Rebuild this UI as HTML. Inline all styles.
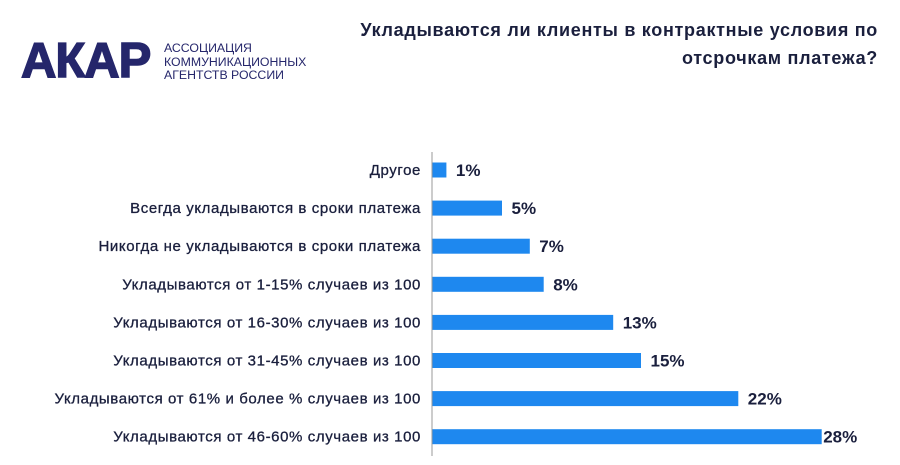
<!DOCTYPE html>
<html><head><meta charset="utf-8"><style>
body{margin:0;width:900px;height:465px;background:#fff;overflow:hidden;font-family:"Liberation Sans","DejaVu Sans",sans-serif;position:relative}
.logo{position:absolute;left:21px;top:37px;font-size:49px;font-weight:bold;color:#25266b;letter-spacing:-1px;line-height:1;-webkit-text-stroke:1.5px #25266b}
.logo-sub{position:absolute;left:164px;top:42px;font-size:12.3px;line-height:13.5px;color:#25266b}
.title{position:absolute;right:22px;top:16px;width:580px;text-align:right;font-size:18px;font-weight:bold;color:#1a1f3d;line-height:28px;letter-spacing:0.7px}
</style></head><body>
<div class="logo">АКАР</div>
<div class="logo-sub">АССОЦИАЦИЯ<br>КОММУНИКАЦИОННЫХ<br>АГЕНТСТВ РОССИИ</div>
<div class="title">Укладываются ли клиенты в контрактные условия по<br>отсрочкам платежа?</div>
<svg id="chart" width="900" height="465" style="position:absolute;left:0;top:0"></svg>
<script>
const categories=["Другое","Всегда укладываются в сроки платежа","Никогда не укладываются в сроки платежа","Укладываются от 1-15% случаев из 100","Укладываются от 16-30% случаев из 100","Укладываются от 31-45% случаев из 100","Укладываются от 61% и более % случаев из 100","Укладываются от 46-60% случаев из 100"];
const values=[1,5,7,8,13,15,22,28];
const valueLabels=["1%","5%","7%","8%","13%","15%","22%","28%"];
const svg=document.getElementById('chart');
const NS='http://www.w3.org/2000/svg';
const x0=432,pxPer=13.9;
function xScale(v){return x0+v*pxPer;}
function yScale(i){return 170+i*38.1;}
const axis=document.createElementNS(NS,'line');
axis.setAttribute('x1',x0);axis.setAttribute('x2',x0);axis.setAttribute('y1',152);axis.setAttribute('y2',456);
axis.setAttribute('stroke','#9a9a9a');axis.setAttribute('stroke-width','1');


svg.appendChild(axis);
categories.forEach((c,i)=>{
 const y=yScale(i);
 const r=document.createElementNS(NS,'rect');
 r.setAttribute('x',x0+0.5);r.setAttribute('y',y-7.5);r.setAttribute('width',xScale(values[i])-x0);r.setAttribute('height',15);
 r.setAttribute('fill','#1e88ef');
 
 
 svg.appendChild(r);
 const t=document.createElementNS(NS,'text');
 t.setAttribute('x',421);t.setAttribute('y',y+5);t.setAttribute('text-anchor','end');
 t.setAttribute('font-size','15');t.setAttribute('letter-spacing','0.6');t.setAttribute('fill','#1a1f3d');t.setAttribute('stroke','#1a1f3d');t.setAttribute('stroke-width','0.3');t.setAttribute('font-family','Liberation Sans, sans-serif');
 t.textContent=c;
 
 
 svg.appendChild(t);
 const v=document.createElementNS(NS,'text');
 v.setAttribute('x',xScale(values[i])+(i==7?2:10));v.setAttribute('y',y+6);
 v.setAttribute('font-size','17');v.setAttribute('font-weight','bold');v.setAttribute('fill','#1a1f3d');v.setAttribute('font-family','Liberation Sans, sans-serif');
 v.textContent=valueLabels[i];
 
 
 svg.appendChild(v);
});
</script>
</body></html>
